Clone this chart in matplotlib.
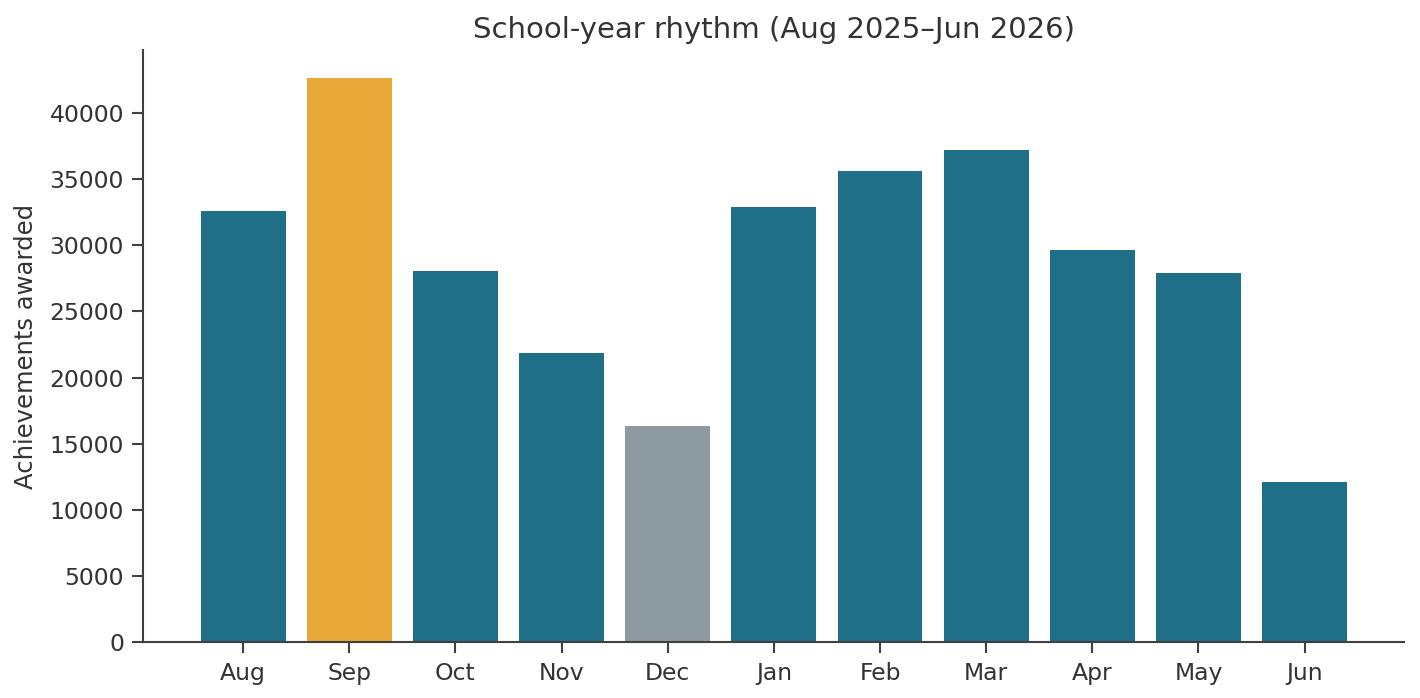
import matplotlib
matplotlib.use("Agg")
import matplotlib.pyplot as plt

months = ["Aug", "Sep", "Oct", "Nov", "Dec", "Jan", "Feb", "Mar", "Apr", "May", "Jun"]
awarded = [32600, 42600, 28050, 21850, 16330, 32900, 35600, 37200, 29650, 27900, 12100]
highlight = {"Sep": "#e8a838", "Dec": "#8d9aa2"}
baseColor = "#206f89"

textColor = "#333333"
plt.rcParams["font.family"] = ["DejaVu Sans"]
plt.rcParams["text.color"] = textColor
plt.rcParams["axes.labelcolor"] = textColor
plt.rcParams["xtick.color"] = "#404040"
plt.rcParams["ytick.color"] = "#404040"
plt.rcParams["xtick.labelcolor"] = textColor
plt.rcParams["ytick.labelcolor"] = textColor

fig, ax = plt.subplots(figsize=(14.2, 6.98), dpi=100)
colors = [highlight.get(m, baseColor) for m in months]
ax.bar(months, awarded, width=0.8, color=colors)

ax.set_title("School-year rhythm (Aug 2025\u2013Jun 2026)", fontsize=21, pad=9)
ax.set_ylabel("Achievements awarded", fontsize=17.5, labelpad=8)
ax.tick_params(axis="both", labelsize=16.9, length=8, width=1.5, pad=6)
ax.spines["top"].set_visible(False)
ax.spines["right"].set_visible(False)
for s in ("left", "bottom"):
    ax.spines[s].set_linewidth(1.5)
    ax.spines[s].set_color("#404040")

fig.subplots_adjust(left=0.101, right=0.989, bottom=0.08, top=0.928)
fig.savefig("out.png", dpi=100)
